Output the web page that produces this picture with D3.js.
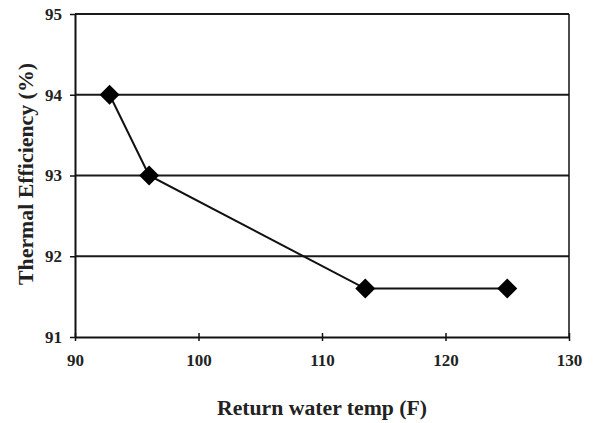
<!DOCTYPE html>
<html><head><meta charset="utf-8">
<script src="https://cdn.jsdelivr.net/npm/d3@7"></script>
<style>body{margin:0;background:#fff}</style>
</head><body><svg id="c" width="593" height="423"></svg>
<script>
const xValues = [92.8, 96, 113.5, 125];
const yValues = [94, 93, 91.6, 91.6];
const xTicks = [90, 100, 110, 120, 130];
const yTicks = [91, 92, 93, 94, 95];
const xTitle = "Return water temp (F)";
const yTitle = "Thermal Efficiency (%)";

const svg = d3.select("#c");
const L = 75, R = 569, T = 14, B = 337;
const x = d3.scaleLinear().domain([90, 130]).range([L, R]);
const y = d3.scaleLinear().domain([91, 95]).range([B, T]);
const font = "'Liberation Serif','Times New Roman',serif";

// gridlines
svg.append("g").selectAll("line").data(yTicks.slice(1)).join("line")
  .attr("x1", L).attr("x2", R).attr("y1", d => y(d)).attr("y2", d => y(d))
  .attr("stroke", "#1a1a1a").attr("stroke-width", 1.8);
// right border
svg.append("line").attr("x1", R).attr("x2", R).attr("y1", T).attr("y2", B)
  .attr("stroke", "#111").attr("stroke-width", 1.5);

const xa = svg.append("g").attr("transform", `translate(0,${B})`)
  .call(d3.axisBottom(x).tickValues(xTicks).tickFormat(d3.format("d"))
    .tickSize(4).tickSizeOuter(0).tickPadding(13));
const ya = svg.append("g").attr("transform", `translate(${L},0)`)
  .call(d3.axisLeft(y).tickValues(yTicks).tickFormat(d3.format("d"))
    .tickSize(5).tickSizeOuter(0).tickPadding(8));
[xa, ya].forEach(a => {
  a.select(".domain").attr("stroke", "#111").attr("stroke-width", 2);
  a.selectAll(".tick line").attr("stroke", "#111").attr("stroke-width", 1.5);
  a.selectAll("text").attr("font-family", font).attr("font-weight", "bold")
    .attr("font-size", 17).attr("fill", "#222");
});
xa.selectAll(".tick line").attr("y1", -4);

const pts = xValues.map((v, i) => [v, yValues[i]]);
svg.append("path").datum(pts)
  .attr("d", d3.line().x(d => x(d[0])).y(d => y(d[1])))
  .attr("fill", "none").attr("stroke", "#111").attr("stroke-width", 2);
svg.append("g").selectAll("path").data(pts).join("path")
  .attr("transform", d => `translate(${x(d[0])},${y(d[1])})`)
  .attr("d", "M0,-10L10,0L0,10L-10,0Z").attr("fill", "#000");

svg.append("text").attr("x", 322).attr("y", 415).attr("text-anchor", "middle")
  .attr("font-family", font).attr("font-weight", "bold").attr("font-size", 20)
  .attr("textLength", 210).attr("lengthAdjust", "spacingAndGlyphs")
  .attr("fill", "#222").text(xTitle);
svg.append("text").attr("transform", "translate(33,174) rotate(-90)")
  .attr("text-anchor", "middle").attr("font-family", font).attr("font-weight", "bold")
  .attr("font-size", 20).attr("textLength", 222).attr("lengthAdjust", "spacingAndGlyphs")
  .attr("fill", "#222").text(yTitle);
</script></body></html>
